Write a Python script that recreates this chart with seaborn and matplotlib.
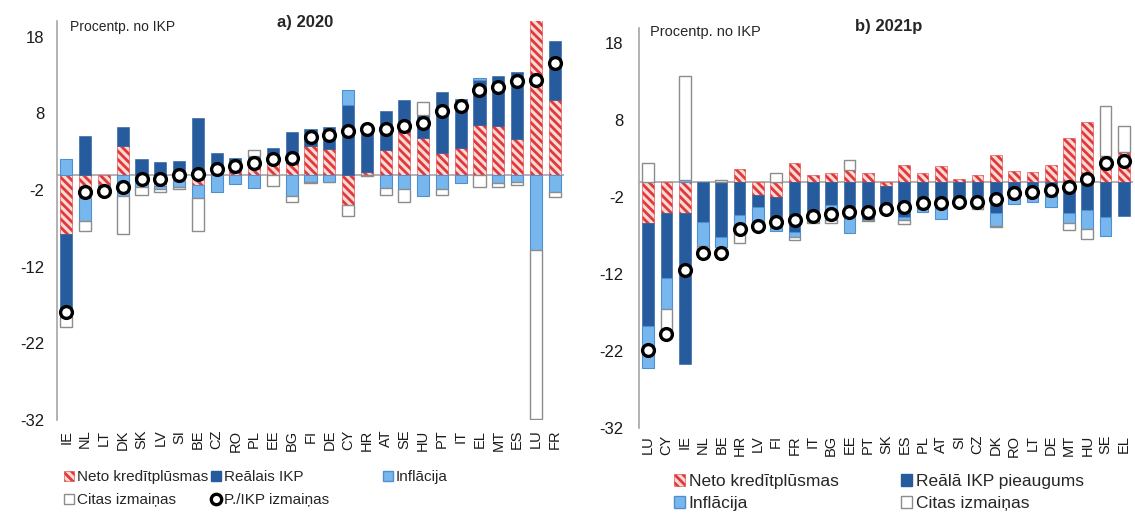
import numpy as np
import matplotlib
matplotlib.use("Agg")
import matplotlib.pyplot as plt
import seaborn as sns
from matplotlib.patches import Patch
from matplotlib.lines import Line2D

# ---------------- data: panel a) 2020 ----------------
countries_a = ["IE", "NL", "LT", "DK", "SK", "LV", "SI", "BE", "CZ", "RO", "PL", "EE", "BG", "FI",
               "DE", "CY", "HR", "AT", "SE", "HU", "PT", "IT", "EL", "MT", "ES", "LU", "FR"]
credit_a = [-7.8, -3.0, -1.3, 3.8, 0.0, -1.5, -0.8, -1.3, 0.3, 1.2, 2.0, 2.4, 1.5, 3.7,
            3.4, -3.9, 0.4, 3.2, 5.6, 4.8, 2.8, 3.5, 6.5, 6.3, 4.6, 44.3, 9.8]
gdp_a = [-10.7, 5.1, 0.0, 2.4, 2.1, 1.7, 1.8, 7.4, 2.5, 1.0, 0.5, 1.1, 4.1, 2.3,
         2.8, 9.1, 5.7, 5.1, 4.1, 3.0, 8.0, 6.4, 5.8, 6.6, 8.8, 0.0, 7.6]
infl_a = [2.0, -3.1, -0.4, -2.8, -1.6, -0.3, -0.8, -1.7, -2.2, -1.2, -1.7, 0.0, -2.8, -0.9,
          -0.9, 2.0, 0.0, -1.7, -1.8, -2.8, -1.8, -1.1, 0.3, -1.1, -0.9, -9.8, -2.3]
other_a = [-1.4, -1.2, -0.3, -5.0, -1.0, -0.4, -0.3, -4.4, 0.0, 0.0, 0.7, -1.5, -0.8, -0.2,
           -0.1, -1.5, -0.2, -0.9, -1.7, 1.7, -0.9, 0.0, -1.6, -0.5, -0.5, -22.1, -0.6]
ratio_a = [-17.9, -2.2, -2.1, -1.6, -0.5, -0.5, -0.1, 0.1, 0.8, 1.1, 1.5, 2.0, 2.2, 4.9,
           5.2, 5.7, 5.9, 6.0, 6.3, 6.7, 8.3, 8.9, 11.1, 11.4, 12.2, 12.4, 14.6]

# ---------------- data: panel b) 2021p ----------------
countries_b = ["LU", "CY", "IE", "NL", "BE", "HR", "LV", "FI", "FR", "IT", "BG", "EE", "PT", "SK",
               "ES", "PL", "AT", "SI", "CZ", "DK", "RO", "LT", "DE", "MT", "HU", "SE", "EL"]
credit_b = [-5.4, -4.1, -4.1, 0.0, 0.0, 1.7, -1.7, -2.0, 2.4, 0.9, 1.2, 1.5, 1.2, -0.6,
            2.2, 1.2, 2.0, 0.4, 0.9, 3.5, 1.4, 1.3, 2.2, 5.7, 7.8, 3.3, 3.9]
gdp_b = [-13.3, -8.4, -19.6, -5.2, -7.2, -4.3, -1.6, -4.0, -6.5, -5.1, -3.0, -4.1, -4.9, -2.9,
         -4.6, -3.5, -3.3, -3.0, -2.0, -4.1, -2.0, -1.8, -2.0, -4.1, -3.7, -4.6, -4.4]
infl_b = [-5.5, -4.0, 0.3, -3.1, -1.3, -1.3, -1.9, -0.4, -0.7, 0.0, -2.0, -2.6, 0.0, 0.0,
          -0.4, -0.4, -1.5, 0.0, -1.2, -1.6, -0.9, -0.8, -1.3, -1.3, -2.4, -2.4, 0.0]
other_b = [2.4, -3.3, 13.5, -0.5, 0.3, -2.3, -0.5, 1.1, -0.3, -0.2, -0.4, 1.3, -0.2, 0.0,
           -0.5, 0.0, 0.0, 0.0, -0.3, -0.2, 0.0, 0.0, 0.0, -0.9, -1.3, 6.5, 3.3]
ratio_b = [-21.8, -19.8, -11.5, -9.3, -9.3, -6.1, -5.7, -5.2, -5.0, -4.4, -4.2, -3.9, -3.9, -3.5,
           -3.3, -2.7, -2.7, -2.6, -2.6, -2.2, -1.5, -1.3, -1.1, -0.7, 0.4, 2.5, 2.7]

yticks = [18, 8, -2, -12, -22, -32]

# ---------------- styles ----------------
RED = "#E0393A"
RED_FACE = "#F9DAD7"
DARK = "#265C9E"
LIGHT = "#78B7EE"
LIGHT_EDGE = "#4F8FD0"
GRAY = "#8C8C8C"
HATCH = "\\\\\\\\"

sns.set_theme(style="white")
plt.rcParams["font.family"] = ["Liberation Sans", "DejaVu Sans"]
plt.rcParams["hatch.linewidth"] = 2.0

layer_styles = [
    dict(color=RED_FACE, edgecolor=RED, linewidth=0.4, hatch=HATCH),
    dict(color=DARK, edgecolor=DARK, linewidth=0.4),
    dict(color=LIGHT, edgecolor=LIGHT_EDGE, linewidth=0.8),
    dict(color="white", edgecolor=GRAY, linewidth=1.0),
]


def draw_panel(ax, countries, layers, ratio, ypad, xpad):
    n = len(countries)
    pos = np.zeros(n)
    neg = np.zeros(n)
    for vals, style in zip(layers, layer_styles):
        v = np.asarray(vals, dtype=float)
        bottom = np.where(v >= 0, pos, neg)
        n_before = len(ax.patches)
        sns.barplot(x=countries, y=v, bottom=bottom, ax=ax, width=0.64,
                    errorbar=None, saturation=1, zorder=2, **style)
        for p in ax.patches[n_before:]:
            if abs(p.get_height()) < 1e-9:
                p.set_visible(False)
        pos += np.clip(v, 0, None)
        neg += np.clip(v, None, 0)
    ax.axhline(0, color="#A6A6A6", lw=1.2, zorder=1.5)
    sns.stripplot(x=countries, y=ratio, ax=ax, jitter=False, color="white",
                  edgecolor="black", linewidth=2.4, size=8.5, zorder=5)
    ax.set_xlim(-0.5, n - 0.5)
    ax.set_ylim(-32, 20)
    ax.set_yticks(yticks)
    ax.set_yticklabels([str(t) for t in yticks])
    ax.set_xlabel("")
    ax.set_ylabel("")
    for s in ["top", "right", "bottom"]:
        ax.spines[s].set_visible(False)
    ax.spines["left"].set_color("#A6A6A6")
    ax.spines["left"].set_linewidth(1.2)
    ax.tick_params(axis="y", length=0, pad=ypad, labelsize=12, labelcolor="#1a1a1a")
    ax.tick_params(axis="x", length=0, pad=xpad, labelsize=10.5, labelrotation=90,
                   labelcolor="#1a1a1a")
    ax.grid(False)


fig = plt.figure(figsize=(11.35, 5.13), dpi=100)
W, H = 1135, 513
axA = fig.add_axes([57 / W, 1 - 420 / H, (564 - 57) / W, (420 - 21.4) / H])
axB = fig.add_axes([639 / W, 1 - 428 / H, (1133 - 639) / W, (428 - 28) / H])

draw_panel(axA, countries_a, [credit_a, gdp_a, infl_a, other_a], ratio_a, ypad=9, xpad=7)
draw_panel(axB, countries_b, [credit_b, gdp_b, infl_b, other_b], ratio_b, ypad=11, xpad=5)

# titles / unit labels
fig.text(305 / W, 1 - 23 / H, "a) 2020", ha="center", va="center", fontsize=12, fontweight="bold")
fig.text(70 / W, 1 - 27 / H, "Procentp. no IKP", ha="left", va="center", fontsize=10)
fig.text(855 / W, 1 - 26 / H, "b) 2021p", ha="left", va="center", fontsize=12, fontweight="bold")
fig.text(650 / W, 1 - 32 / H, "Procentp. no IKP", ha="left", va="center", fontsize=10.5)

# legend handles
h_credit = Patch(facecolor=RED_FACE, edgecolor=RED, hatch=HATCH, linewidth=0.4)
h_gdp = Patch(facecolor=DARK, edgecolor=DARK)
h_infl = Patch(facecolor=LIGHT, edgecolor=LIGHT_EDGE)
h_other = Patch(facecolor="white", edgecolor=GRAY)
h_ratio = Line2D([], [], marker="o", linestyle="", markerfacecolor="white",
                 markeredgecolor="black", markeredgewidth=2.4, markersize=7.5)

leg_common = dict(frameon=False, borderpad=0, borderaxespad=0, handlelength=0.65,
                  handleheight=0.65, handletextpad=0.2, loc="upper left")

# left legend: three columns
fig.legend(handles=[h_credit, h_other], labels=["Neto kredītplūsmas", "Citas izmaiņas"],
           bbox_to_anchor=(64 / W, 1 - 470 / H), fontsize=11, labelspacing=0.6, **leg_common)
fig.legend(handles=[h_gdp, h_ratio], labels=["Reālais IKP", "P./IKP izmaiņas"],
           bbox_to_anchor=(211 / W, 1 - 470 / H), fontsize=11, labelspacing=0.6, **leg_common)
fig.legend(handles=[h_infl], labels=["Inflācija"],
           bbox_to_anchor=(383 / W, 1 - 470 / H), fontsize=11, labelspacing=0.6, **leg_common)

# right legend: two columns
fig.legend(handles=[h_credit, h_infl], labels=["Neto kredītplūsmas", "Inflācija"],
           bbox_to_anchor=(674 / W, 1 - 474 / H), fontsize=12.5, labelspacing=0.4, **leg_common)
fig.legend(handles=[h_gdp, h_other], labels=["Reālā IKP pieaugums", "Citas izmaiņas"],
           bbox_to_anchor=(901 / W, 1 - 474 / H), fontsize=12.5, labelspacing=0.4, **leg_common)

fig.savefig("out.png", dpi=100)
